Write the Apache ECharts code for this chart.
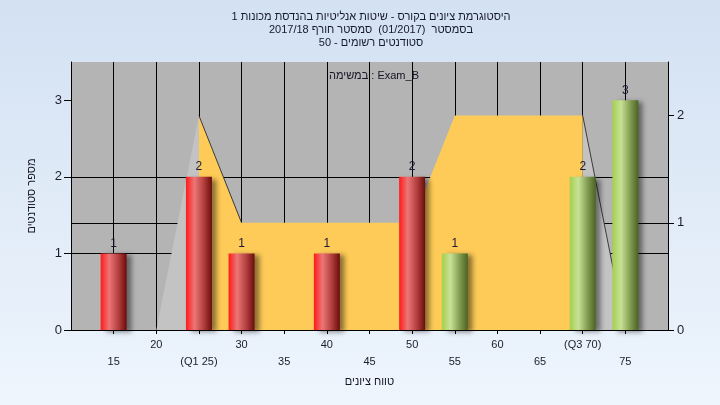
<!DOCTYPE html>
<html><head><meta charset="utf-8">
<script src="https://cdn.jsdelivr.net/npm/echarts@6/dist/echarts.min.js"></script>
<style>html,body{margin:0;padding:0;}#c{width:720px;height:405px;}</style>
</head><body><div id="c"></div>
<script>
// ---- data ----
const titleLines = [
  'היסטוגרמת ציונים בקורס - שיטות אנליטיות בהנדסת מכונות 1',
  'בסמסטר  (01/2017)  סמסטר חורף 2017/18',
  'סטודנטים רשומים - 50'
];
const legendText = 'במשימה : Exam_B';
const yAxisTitle = 'מספר סטודנטים';
const xAxisTitle = 'טווח ציונים';
const grades = [15, 25, 30, 40, 50, 55, 70, 75];
const counts = [1, 2, 1, 1, 2, 1, 2, 3];
const passGrade = 55;
const curveX = [20, 25, 30, 50, 55, 70, 75];
const curveY = [0, 2, 1, 1, 2, 2, 0];
const specialTicks = {25: '(Q1 25)', 70: '(Q3 70)'};

// ---- helpers ----
const font = '"Liberation Sans", Arial, "DejaVu Sans", sans-serif';
const pts = (i0, i1) => curveX.slice(i0, i1 + 1).map((x, k) => [x, curveY[i0 + k]]);
const redGrad = new echarts.graphic.LinearGradient(0, 0, 1, 0, [
  {offset: 0, color: '#ff1a1a'}, {offset: 0.33, color: '#ec7676'},
  {offset: 0.7, color: '#b03c3c'}, {offset: 1, color: '#6a0c0c'}]);
const greenGrad = new echarts.graphic.LinearGradient(0, 0, 1, 0, [
  {offset: 0, color: '#a2d04c'}, {offset: 0.33, color: '#c8e196'},
  {offset: 0.7, color: '#7f9a4e'}, {offset: 1, color: '#4a6422'}]);

const chart = echarts.init(document.getElementById('c'));
chart.setOption({
  animation: false,
  backgroundColor: new echarts.graphic.LinearGradient(0, 0, 0, 1, [
    {offset: 0, color: '#d3e1f2'}, {offset: 1, color: '#eef5fd'}]),
  textStyle: {fontFamily: font},
  title: {
    text: titleLines.join('\n'),
    left: 366, top: 5, textAlign: 'center',
    textStyle: {fontSize: 11, fontWeight: 'normal', color: '#141a2c', lineHeight: 13, fontFamily: font}
  },
  legend: {
    data: [{name: 'Exam_B', icon: 'none'}],
    formatter: () => legendText,
    left: 324, top: 69, itemWidth: 0, itemGap: 0, padding: 0,
    selectedMode: false,
    textStyle: {fontSize: 11, color: '#141424', fontFamily: font}
  },
  grid: {left: 71, right: 52, top: 62, bottom: 75, show: true, backgroundColor: '#b4b4b4', borderWidth: 0},
  xAxis: {
    type: 'value', min: 10, max: 80, interval: 5,
    name: xAxisTitle, nameLocation: 'middle', nameGap: 46,
    nameTextStyle: {fontSize: 11, color: '#141424'},
    axisLine: {lineStyle: {color: '#000', width: 1}},
    axisTick: {length: 4, lineStyle: {color: '#000'}},
    splitLine: {show: true, lineStyle: {color: '#000', width: 1}},
    axisLabel: {
      margin: 6, fontSize: 11, color: '#1c1c2c', lineHeight: 17,
      showMinLabel: false, showMaxLabel: false,
      formatter: v => {
        if (v <= 10 || v >= 80) return '';
        const t = specialTicks[v] || String(v);
        return (v % 10 === 0) ? t : '\n' + t;
      }
    }
  },
  yAxis: [{
    type: 'value', min: 0, max: 3.5, interval: 1, position: 'left',
    name: yAxisTitle, nameLocation: 'middle', nameGap: 34, nameRotate: 90,
    nameTextStyle: {fontSize: 11, color: '#141424'},
    axisLine: {show: true, lineStyle: {color: '#000', width: 1}},
    axisTick: {show: true, length: 7, lineStyle: {color: '#000'}, customValues: [0, 1, 2, 3]},
    splitLine: {show: true, showMaxLine: false, lineStyle: {color: '#000', width: 1}},
    axisLabel: {margin: 9, fontSize: 13, color: '#1c1c2c', customValues: [0, 1, 2, 3]}
  }, {
    type: 'value', min: 0, max: 2.5, interval: 1, position: 'right',
    axisLine: {show: true, lineStyle: {color: '#000', width: 1}},
    axisTick: {show: true, length: 6, lineStyle: {color: '#000'}, customValues: [0, 1, 2]},
    splitLine: {show: true, showMaxLine: false, showMinLine: false, lineStyle: {color: '#000', width: 1}},
    axisLabel: {margin: 9, fontSize: 13, color: '#1c1c2c', customValues: [0, 1, 2]}
  }],
  series: [
    {type: 'line', yAxisIndex: 1, data: pts(0, 1), symbol: 'none', lineStyle: {width: 0},
     areaStyle: {color: '#c3c3c3', opacity: 1}, silent: true, z: 1},
    {type: 'line', yAxisIndex: 1, data: pts(5, 6), symbol: 'none', lineStyle: {width: 0},
     areaStyle: {color: '#c3c3c3', opacity: 1}, silent: true, z: 1},
    {type: 'line', yAxisIndex: 1, data: pts(1, 5), symbol: 'none', lineStyle: {width: 0},
     areaStyle: {color: '#fecb58', opacity: 1}, silent: true, z: 1},
    {type: 'line', yAxisIndex: 1, data: pts(1, 2), symbol: 'none',
     lineStyle: {width: 1, color: '#3a3a3a'}, silent: true, z: 1},
    {type: 'line', yAxisIndex: 1, data: pts(5, 6), symbol: 'none',
     lineStyle: {width: 1, color: '#3a3a3a'}, silent: true, z: 1},
    {
      name: 'Exam_B', type: 'bar', yAxisIndex: 0, barWidth: 26, z: 3,
      data: grades.map((g, i) => ({
        value: [g, counts[i]],
        itemStyle: {color: g >= passGrade ? greenGrad : redGrad}
      })),
      itemStyle: {shadowColor: 'rgba(0,0,0,0.45)', shadowBlur: 5, shadowOffsetX: 5, shadowOffsetY: 2},
      label: {show: true, position: 'top', distance: 4, fontSize: 12, color: '#1a1a34'}
    }
  ]
});
</script></body></html>
